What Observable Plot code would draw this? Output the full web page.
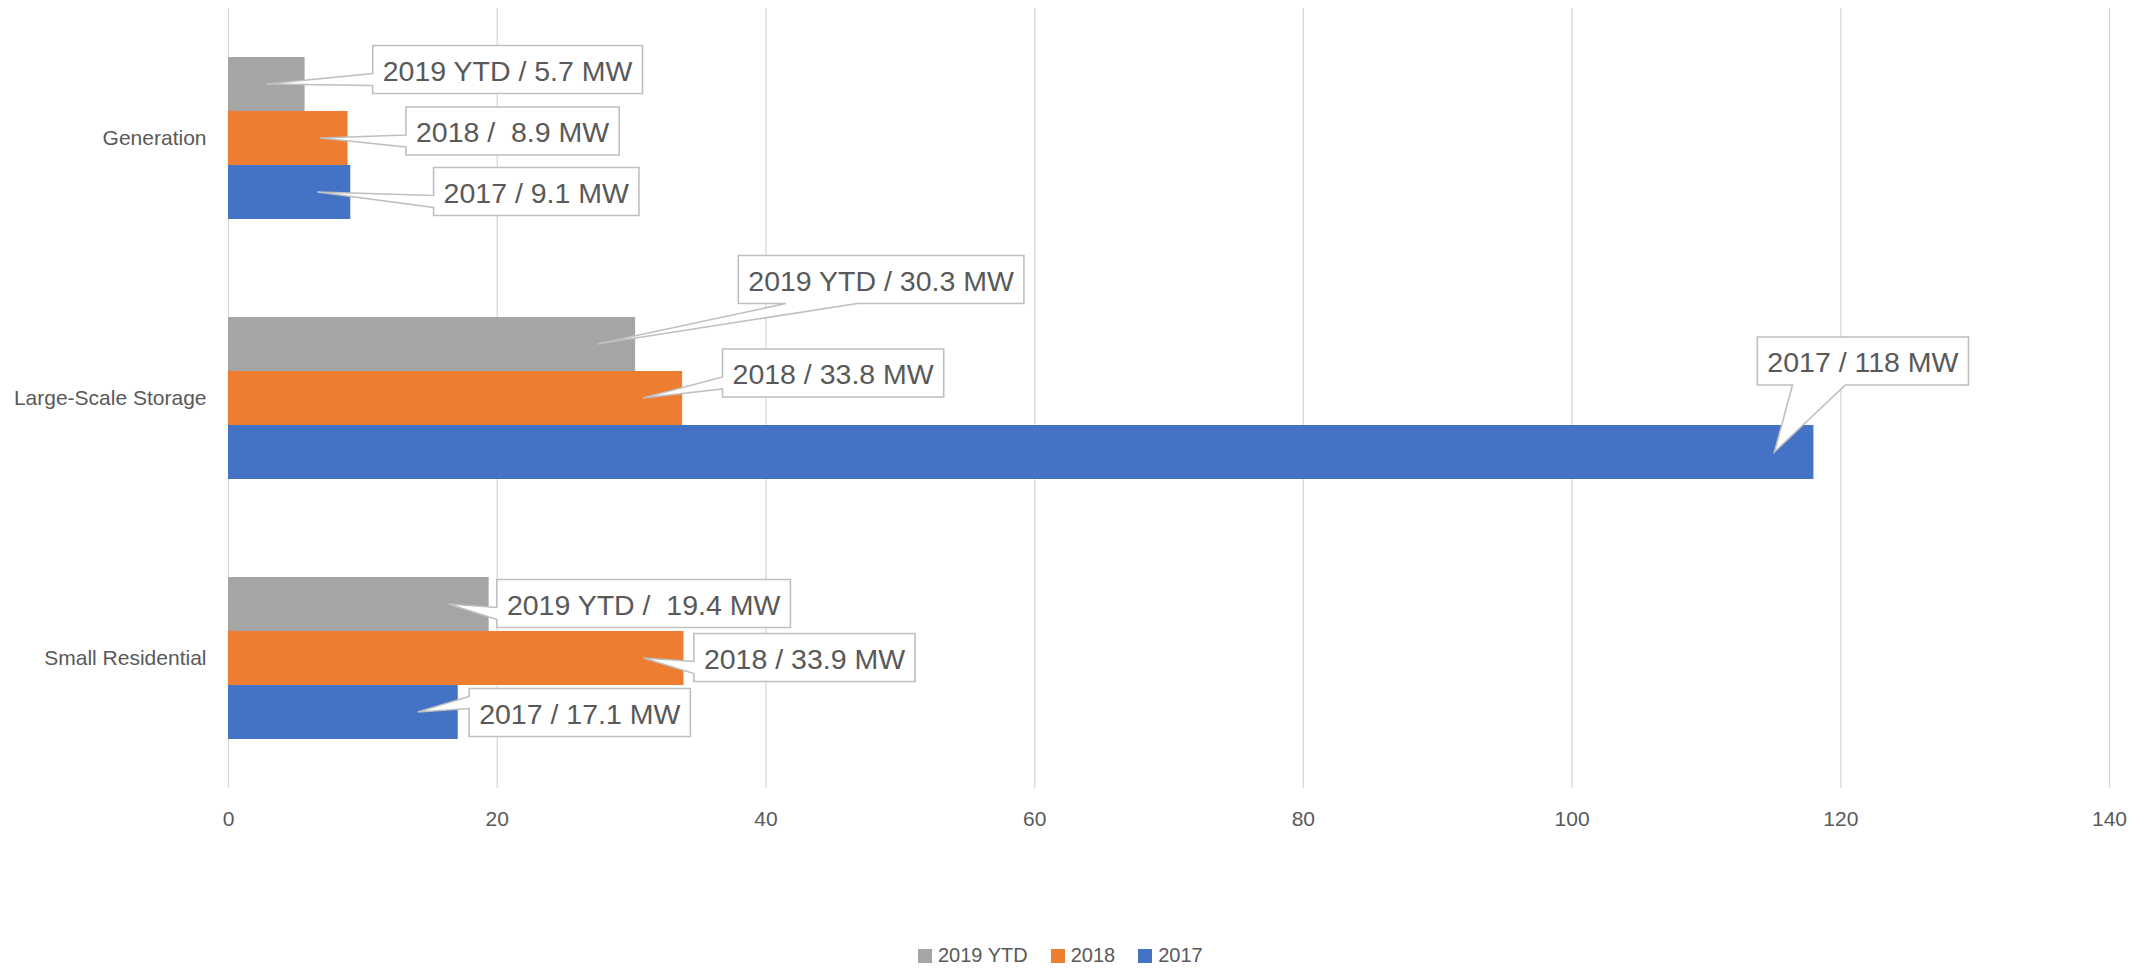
<!DOCTYPE html>
<html>
<head>
<meta charset="utf-8">
<script src="https://cdn.jsdelivr.net/npm/d3@7"></script>
<script src="https://cdn.jsdelivr.net/npm/@observablehq/plot@0.6"></script>
<style>
  html, body { margin: 0; padding: 0; background: #fff; }
  body { width: 2151px; height: 969px; overflow: hidden; font-family: "Liberation Sans", Arial, sans-serif; }
  #legend { display: flex; align-items: center; height: 27px; margin-left: 918px; color: #595959; font-size: 20px; }
  #legend .item { display: flex; align-items: center; margin-right: 23px; }
  #legend .sw { width: 14px; height: 14px; margin-right: 6px; }
</style>
</head>
<body>
<div id="chart"></div>
<div id="legend"></div>
<script>
// ---- data ----
const categories = ["Generation", "Large-Scale Storage", "Small Residential"];
const seriesNames = ["2019 YTD", "2018", "2017"];
const values2019 = [5.7, 30.3, 19.4];
const values2018 = [8.9, 33.8, 33.9];
const values2017 = [9.1, 118, 17.1];
const labels2019 = ["2019 YTD / 5.7 MW", "2019 YTD / 30.3 MW", "2019 YTD /  19.4 MW"];
const labels2018 = ["2018 /  8.9 MW", "2018 / 33.8 MW", "2018 / 33.9 MW"];
const labels2017 = ["2017 / 9.1 MW", "2017 / 118 MW", "2017 / 17.1 MW"];
const xTicks = [0, 20, 40, 60, 80, 100, 120, 140];

// ---- styles / layout (kept apart from data) ----
const colors = ["#A5A5A5", "#ED7D31", "#4472C4"];
const textColor = "#595959";
// callout layout per category (rows) and series (cols): [tipDx, boxDx, boxDy] in px, relative to bar end / bar centre
const calloutLayout = [
  [[-38.6, 203, -14.5], [-27.6, 165, -7], [-33, 186, -0.5]],
  [[-38, 246, -64.5], [-39, 151, -25], [-39, 49.5, -91]],
  [[-40, 155, -0.5], [-40, 121, -0.5], [-40, 122, 0.5]]
];

const W = 2151, H = 942;
const mTop = 8, mBottom = H - 788, mLeft = 228, mRight = W - 2109;
const band = (H - mTop - mBottom) / categories.length;
const barH = 54;
const groupPad = (band - barH * seriesNames.length) / 2;

const valueSets = [values2019, values2018, values2017];
const labelSets = [labels2019, labels2018, labels2017];
const rows = [];
valueSets.forEach((vals, si) => {
  vals.forEach((v, ci) => rows.push({category: categories[ci], series: seriesNames[si], si, ci, value: v, label: labelSets[si][ci]}));
});

const barMarks = seriesNames.map((s, si) =>
  Plot.barX(rows.filter(d => d.si === si), {
    x: "value",
    y: "category",
    fill: colors[si],
    insetTop: groupPad + barH * si,
    insetBottom: band - groupPad - barH * (si + 1)
  })
);

const plot = Plot.plot({
  width: W,
  height: H,
  marginTop: mTop,
  marginBottom: mBottom,
  marginLeft: mLeft,
  marginRight: mRight,
  style: {fontFamily: "Liberation Sans, Arial, sans-serif", fontSize: "21px", color: textColor, background: "#fff", overflow: "visible"},
  x: {domain: [0, 140], ticks: xTicks, tickSize: 0, tickPadding: 23, label: null},
  y: {domain: categories, padding: 0, tickSize: 0, tickPadding: 22, label: null},
  marks: [
    Plot.gridX(xTicks, {stroke: "#D9D9D9", strokeOpacity: 1, strokeWidth: 1.3}),
    ...barMarks
  ]
});
document.getElementById("chart").appendChild(plot);

// ---- callouts drawn via the plot's own scales ----
const xs = plot.scale("x"), ys = plot.scale("y");
const svg = d3.select(plot);
const g = svg.append("g").attr("class", "callouts");

function calloutPath(l, t, w, h, xPos, yPos) {
  const r = l + w, b = t + h, hc = l + w / 2, vc = t + h / 2;
  const dx = xPos - hc, dy = yPos - vc;
  const dq = dx * h / w;
  const dz = Math.abs(dy) - Math.abs(dq);
  const x1 = l + w * (dx > 0 ? 7 : 2) / 12, x2 = l + w * (dx > 0 ? 10 : 5) / 12;
  const y1 = t + h * (dy > 0 ? 7 : 2) / 12, y2 = t + h * (dy > 0 ? 10 : 5) / 12;
  const xl = dz > 0 ? l : (dx > 0 ? l : xPos), yl = dz > 0 ? y1 : (dx > 0 ? y1 : yPos);
  const xt = dz > 0 ? (dy > 0 ? x1 : xPos) : x1, yt = dz > 0 ? (dy > 0 ? t : yPos) : t;
  const xr = dz > 0 ? r : (dx > 0 ? xPos : r), yr = dz > 0 ? y1 : (dx > 0 ? yPos : y1);
  const xb = dz > 0 ? (dy > 0 ? xPos : x1) : x1, yb = dz > 0 ? (dy > 0 ? yPos : b) : b;
  return `M${l},${t}L${x1},${t}L${xt},${yt}L${x2},${t}L${r},${t}L${r},${y1}L${xr},${yr}L${r},${y2}L${r},${b}L${x2},${b}L${xb},${yb}L${x1},${b}L${l},${b}L${l},${y2}L${xl},${yl}L${l},${y1}Z`;
}

rows.forEach(d => {
  const [tipDx, boxDx, boxDy] = calloutLayout[d.ci][d.si];
  const endX = xs.apply(d.value);
  const cy = ys.apply(d.category) + groupPad + barH * d.si + barH / 2;
  const tipX = endX + tipDx, tipY = cy;
  const bx = endX + boxDx, by = cy + boxDy;
  const grp = g.append("g");
  const path = grp.append("path");
  const txt = grp.append("text")
    .attr("x", bx).attr("y", by).attr("dy", "0.4em")
    .attr("text-anchor", "middle")
    .attr("xml:space", "preserve")
    .style("white-space", "pre")
    .attr("fill", textColor)
    .attr("font-family", "Liberation Sans, Arial, sans-serif")
    .attr("font-size", 28.5)
    .text(d.label);
  const tw = txt.node().getComputedTextLength();
  const w = tw + 20, h = 48;
  path.attr("d", calloutPath(bx - w / 2, by - h / 2, w, h, tipX, tipY))
    .attr("fill", "#fff").attr("stroke", "#BFBFBF").attr("stroke-width", 1.6);
});

// ---- legend ----
const legend = document.getElementById("legend");
seriesNames.forEach((s, i) => {
  const it = document.createElement("div");
  it.className = "item";
  it.innerHTML = `<div class="sw" style="background:${colors[i]}"></div><span>${s}</span>`;
  legend.appendChild(it);
});
</script>
</body>
</html>
